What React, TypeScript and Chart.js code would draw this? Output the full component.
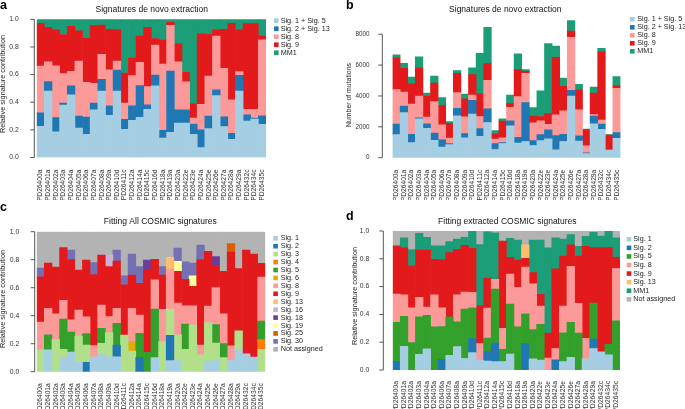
import React, { useEffect, useRef } from 'react';
import { Chart, registerables } from 'chart.js';

Chart.register(...registerables);

const FONT = '"Liberation Sans", Arial, Helvetica, sans-serif';

const SAMPLES = ['PD26400a','PD26401a','PD26402a','PD26403a','PD26404a','PD26405a','PD26406a','PD26407a','PD26408a','PD26409a','PD26410d','PD26411c','PD26412a','PD26414a','PD26415c','PD26416d','PD26418a','PD26419a','PD26420a','PD26422e','PD26423e','PD26424a','PD26425e','PD26426e','PD26427a','PD26428a','PD26429a','PD26432c','PD26434c','PD26435c'];

const FRACTION_TICKS = [0, 0.2, 0.4, 0.6, 0.8, 1.0];
const COUNT_TICKS = [0, 2000, 4000, 6000, 8000];

// Panel a: relative contributions (de novo)
const A_SIG1_5 = [.225,.48,.185,.379,.453,.213,.168,.345,.48,.305,.48,.204,.269,.29,.348,.518,.141,.182,.249,.249,.168,.072,.209,.448,.223,.132,.48,.264,.278,.24];
const A_SIG2_13 = [.099,.07,.103,.014,.065,.087,.125,.048,.086,.069,.153,.072,.105,.23,.033,.079,.056,.444,.096,.096,.074,.128,.091,.041,.072,.043,.115,.045,.007,.062];
const A_SIG8 = [.338,.143,.376,.214,.106,.398,.251,.144,.18,.261,.065,.117,.218,.168,.132,.216,.479,.331,.348,.202,.043,.184,.29,.389,.35,.242,.026,.039,.063,.549];
const A_SIG9 = [.309,.249,.259,.283,.326,.218,.319,.417,.213,.293,.225,.218,.127,.19,.429,.048,.173,.021,.132,.069,.103,.513,.302,.045,.283,.554,.302,.621,.621,.027];
const A_MM1 = [.029,.058,.077,.11,.05,.084,.137,.046,.041,.072,.077,.389,.281,.122,.058,.139,.151,.022,.175,.384,.612,.103,.108,.077,.072,.029,.077,.031,.031,.122];

// Panel b: number of mutations (de novo)
const B_SIG1_5 = [1490,2920,980,2520,1900,1130,680,850,2710,1280,2820,1390,2280,530,920,2070,940,1050,790,1110,1220,510,1050,3990,1070,260,2200,1840,470,1260];
const B_SIG2_13 = [690,430,530,60,300,470,470,60,490,280,900,490,880,380,60,320,380,2520,320,380,580,920,470,380,340,60,490,340,20,360];
const B_SIG8 = [2240,900,1960,1410,430,2030,980,360,1020,1090,340,790,1860,300,300,880,2640,1900,1150,900,360,1340,1510,3430,1690,450,110,260,20,2880];
const B_SIG9 = [2070,1540,1320,1840,1370,1200,1260,960,1240,1170,1320,1470,1070,340,1090,230,1750,130,430,280,700,3730,1600,410,1300,1050,1390,4420,960,150];
const B_MM1 = [170,320,430,700,190,450,510,110,190,300,450,2620,2350,210,150,560,1020,110,550,1660,4540,730,530,680,360,40,380,230,20,600];

// Panel c: fitting all COSMIC signatures
const C_SIG1 = [0,.156,0,.10,.14,.067,0,.107,.131,.107,.107,0,0,0,0,.10,0,.079,.079,0,0,0,.072,.083,0,.08,.155,.127,.105,0];
const C_SIG2 = [0,0,0,0,0,0,.067,0,0,0,.083,0,0,.102,0,0,0,.181,0,0,0,0,0,0,0,0,0,0,0,0];
const C_SIG3 = [.157,0,.229,.06,0,.188,.123,0,.071,.172,0,.262,.148,0,0,0,.215,.188,.185,.16,.335,.12,.279,.122,.1,0,.137,0,0,.16];
const C_SIG4 = [0,0,0,0,0,0,0,0,0,0,0,0,0,0,0,0,0,0,0,0,0,0,0,0,0,0,0,0,0,.069];
const C_SIG5 = [0,.107,0,.215,.143,0,.082,0,.108,0,.155,0,0,.172,.138,.347,0,0,0,.18,0,0,0,.131,.1,0,0,0,0,.133];
const C_SIG6 = [0,0,0,0,0,0,0,0,0,0,0,0,.066,0,0,0,0,0,0,0,0,0,0,0,0,0,0,0,0,0];
const C_SIG8 = [.198,.189,.185,.135,.087,.185,.12,.079,.166,.114,.107,0,.238,.131,0,.209,.23,.285,.226,.13,.135,.07,.117,.264,.214,.105,0,0,0,.314];
const C_SIG9 = [.322,.323,.334,.376,.43,.286,.406,.507,.357,.357,.338,.358,.238,.226,.588,.147,.245,0,.227,.19,.14,.61,.392,.156,.303,.67,.444,.741,.735,.098];
const C_SIG13 = [0,0,0,0,0,0,0,0,0,0,0,0,0,0,0,0,0,.084,0,0,0,0,0,0,0,0,0,0,0,0];
const C_SIG16 = [0,0,0,0,0,0,0,0,0,.083,0,0,0,0,0,0,0,0,0,0,0,0,0,0,0,0,0,0,0,0];
const C_SIG18 = [0,0,0,0,0,0,0,0,0,0,0,0,0,0,.072,0,0,0,0,0,0,0,0,.066,0,0,0,0,0,0];
const C_SIG19 = [0,0,0,0,0,0,0,0,0,0,0,0,0,0,0,0,0,0,.071,0,.075,0,0,0,0,0,0,0,0,0];
const C_SIG25 = [0,0,0,0,0,0,0,0,0,0,0,0,0,0,0,0,0,0,0,0,0,0,0,0,0,.06,0,0,0,0];
const C_SIG30 = [.063,0,0,0,.068,0,0,.086,0,0,.079,.065,.15,.119,0,0,.06,0,.095,.125,.09,.105,0,0,0,0,0,0,0,0];
const C_NA = [.26,.225,.252,.114,.132,.274,.202,.221,.167,.167,.131,.315,.16,.25,.202,.197,.25,.183,.117,.215,.225,.095,.14,.178,.283,.085,.264,.132,.16,.226];

// Panel d: fitting extracted COSMIC signatures
const D_SIG1 = [0,.17,0,.113,.152,0,0,.106,.168,.083,.125,.07,.065,.06,.06,.115,0,0,.08,.072,0,0,.06,.091,0,.081,.155,.131,.11,0];
const D_SIG2 = [.062,0,0,0,0,0,.076,0,0,0,.101,0,.066,.133,0,0,0,.19,0,0,0,.073,0,0,0,0,.067,0,0,0];
const D_SIG5 = [.281,.217,.197,.269,.241,.31,.236,.276,.178,.356,.222,0,.098,.389,.089,.36,.31,.215,.21,.256,0,0,.208,.252,.266,0,.26,0,.074,.353];
const D_SIG8 = [.204,.154,.251,.141,.059,.23,.136,0,.195,.122,.111,.12,.216,.07,.151,.215,.285,.335,.33,.132,.085,.082,.191,.403,.214,.147,0,0,0,.377];
const D_SIG9 = [.347,.338,.299,.34,.411,.257,.344,.462,.327,.336,.316,.272,.216,0,.628,.12,.195,.063,.08,.084,.18,.573,.36,.154,.34,.662,.398,.749,.696,.08];
const D_SIG13 = [0,0,0,0,0,0,0,0,0,0,0,0,0,0,0,0,0,.097,0,0,0,0,0,0,0,0,0,0,0,0];
const D_MM1 = [0,.072,.12,.12,.091,.096,.102,.079,.074,.057,.125,.44,.333,.334,0,.138,.145,0,.235,.391,.614,.222,.123,.074,.07,.072,.11,.084,.12,.14];
const D_NA = [.106,.049,.133,.017,.046,.107,.106,.077,.058,.046,0,.098,.006,.014,.072,.052,.065,.1,.065,.065,.121,.05,.058,.026,.11,.038,.01,.036,0,.05];

const COL = {
  s1: '#a6cee3', s2: '#1f78b4', s3: '#b2df8a', s4: '#ff7f00', s5: '#33a02c', s6: '#e6ab02',
  s8: '#fb9a99', s9: '#e31a1c', s13: '#fdbf6f', s16: '#cab2d6', s18: '#6a3d9a', s19: '#ffff99',
  s25: '#d95f02', s30: '#7570b3', mm1: '#1b9e77', na: '#b3b3b3',
};

type Series = { label: string; color: string; data: number[] };
type Spec = {
  key: string; pos: [number, number, number, number];
  area: { left: number; top: number; right: number; bottom: number };
  series: Series[];
  yMax: number; yTicks: number[]; yDigits: number; yFont: number; yPad: number;
  axisGap: number; xPad: number;
  letter: [string, number, number];
  title: [string, number, number];
  ytitle: [string, number, number, number];
  legend: { bx: number; tx: number; y0: number; dy: number };
};

const PANELS: Spec[] = [
  {
    key: 'a', pos: [0, 0, 340, 200],
    area: { left: 36.7, top: 19.3, right: 266, bottom: 157.5 },
    series: [
      { label: 'Sig. 1 + Sig. 5', color: COL.s1, data: A_SIG1_5 },
      { label: 'Sig. 2 + Sig. 13', color: COL.s2, data: A_SIG2_13 },
      { label: 'Sig. 8', color: COL.s8, data: A_SIG8 },
      { label: 'Sig. 9', color: COL.s9, data: A_SIG9 },
      { label: 'MM1', color: COL.mm1, data: A_MM1 },
    ],
    yMax: 1, yTicks: FRACTION_TICKS, yDigits: 1, yFont: 6.8, yPad: 10, axisGap: 2.4, xPad: 4,
    letter: ['a', 0, 9.3], title: ['Signatures de novo extraction', 151.7, 9.5],
    ytitle: ['Relative signature contribution', 3, 84, 7.3],
    legend: { bx: 274, tx: 280.7, y0: 20.7, dy: 8 },
  },
  {
    key: 'b', pos: [340, 0, 345, 200],
    area: { left: 52.5, top: 17.75, right: 280.5, bottom: 157.7 },
    series: [
      { label: 'Sig. 1 + Sig. 5', color: COL.s1, data: B_SIG1_5 },
      { label: 'Sig. 2 + Sig. 13', color: COL.s2, data: B_SIG2_13 },
      { label: 'Sig. 8', color: COL.s8, data: B_SIG8 },
      { label: 'Sig. 9', color: COL.s9, data: B_SIG9 },
      { label: 'MM1', color: COL.mm1, data: B_MM1 },
    ],
    yMax: 9000, yTicks: COUNT_TICKS, yDigits: 0, yFont: 6.3, yPad: 15, axisGap: 10.2, xPad: 4,
    letter: ['b', 6, 9.3], title: ['Signatures de novo extraction', 165.3, 10],
    ytitle: ['Number of mutations', 9.3, 95, 6.9],
    legend: { bx: 290, tx: 297.3, y0: 19.3, dy: 8 },
  },
  {
    key: 'c', pos: [0, 200, 340, 209],
    area: { left: 36.7, top: 31.7, right: 265.3, bottom: 171.7 },
    series: [
      { label: 'Sig. 1', color: COL.s1, data: C_SIG1 },
      { label: 'Sig. 2', color: COL.s2, data: C_SIG2 },
      { label: 'Sig. 3', color: COL.s3, data: C_SIG3 },
      { label: 'Sig. 4', color: COL.s4, data: C_SIG4 },
      { label: 'Sig. 5', color: COL.s5, data: C_SIG5 },
      { label: 'Sig. 6', color: COL.s6, data: C_SIG6 },
      { label: 'Sig. 8', color: COL.s8, data: C_SIG8 },
      { label: 'Sig. 9', color: COL.s9, data: C_SIG9 },
      { label: 'Sig. 13', color: COL.s13, data: C_SIG13 },
      { label: 'Sig. 16', color: COL.s16, data: C_SIG16 },
      { label: 'Sig. 18', color: COL.s18, data: C_SIG18 },
      { label: 'Sig. 19', color: COL.s19, data: C_SIG19 },
      { label: 'Sig. 25', color: COL.s25, data: C_SIG25 },
      { label: 'Sig. 30', color: COL.s30, data: C_SIG30 },
      { label: 'Not assigned', color: COL.na, data: C_NA },
    ],
    yMax: 1, yTicks: FRACTION_TICKS, yDigits: 1, yFont: 6.8, yPad: 9.4, axisGap: 2, xPad: 3.5,
    letter: ['c', 0, 11], title: ['Fitting All COSMIC signatures', 160.3, 21.7],
    ytitle: ['Relative signature contribution', 3, 99, 7.3],
    legend: { bx: 273.3, tx: 280.7, y0: 38.3, dy: 7.93 },
  },
  {
    key: 'd', pos: [340, 200, 345, 209],
    area: { left: 52.7, top: 31, right: 280, bottom: 170 },
    series: [
      { label: 'Sig. 1', color: COL.s1, data: D_SIG1 },
      { label: 'Sig. 2', color: COL.s2, data: D_SIG2 },
      { label: 'Sig. 5', color: COL.s5, data: D_SIG5 },
      { label: 'Sig. 8', color: COL.s8, data: D_SIG8 },
      { label: 'Sig. 9', color: COL.s9, data: D_SIG9 },
      { label: 'Sig. 13', color: COL.s13, data: D_SIG13 },
      { label: 'MM1', color: COL.mm1, data: D_MM1 },
      { label: 'Not assigned', color: COL.na, data: D_NA },
    ],
    yMax: 1, yTicks: FRACTION_TICKS, yDigits: 1, yFont: 6.8, yPad: 15.4, axisGap: 9.4, xPad: 3,
    letter: ['d', 6, 20], title: ['Fitting extracted COSMIC signatures', 167.3, 21.7],
    ytitle: ['Relative signature contribution', 15, 96, 7.3],
    legend: { bx: 286.7, tx: 293.3, y0: 39.3, dy: 8.57 },
  },
];

function makeDecor(s: Spec) {
  return {
    id: 'decor_' + s.key,
    afterDraw(chart: any) {
      const ctx: CanvasRenderingContext2D = chart.ctx;
      const area = chart.chartArea;
      const ys = chart.scales.y;
      ctx.save();
      // R-style detached y axis
      const vals: number[] = ys.ticks.map((t: any) => t.value);
      const ax = area.left - s.axisGap;
      ctx.strokeStyle = '#444';
      ctx.lineWidth = 0.9;
      ctx.beginPath();
      ctx.moveTo(ax, ys.getPixelForValue(Math.min(...vals)));
      ctx.lineTo(ax, ys.getPixelForValue(Math.max(...vals)));
      for (const v of vals) {
        const p = ys.getPixelForValue(v);
        ctx.moveTo(ax, p);
        ctx.lineTo(ax - 4, p);
      }
      ctx.stroke();
      // legend
      ctx.textAlign = 'left';
      ctx.textBaseline = 'middle';
      ctx.font = `7.2px ${FONT}`;
      chart.data.datasets.forEach((ds: any, i: number) => {
        const y = s.legend.y0 + i * s.legend.dy;
        ctx.fillStyle = ds.backgroundColor;
        ctx.fillRect(s.legend.bx, y - 2.3, 4.6, 4.6);
        ctx.fillStyle = '#222';
        ctx.fillText(ds.label, s.legend.tx, y);
      });
      // title
      ctx.textAlign = 'center';
      ctx.font = `8.5px ${FONT}`;
      ctx.fillStyle = '#111';
      ctx.fillText(s.title[0], s.title[1], s.title[2]);
      // y title
      ctx.save();
      ctx.translate(s.ytitle[1], s.ytitle[2]);
      ctx.rotate(-Math.PI / 2);
      ctx.font = `${s.ytitle[3]}px ${FONT}`;
      ctx.fillStyle = '#222';
      ctx.fillText(s.ytitle[0], 0, 0);
      ctx.restore();
      // panel letter
      ctx.textAlign = 'left';
      ctx.textBaseline = 'alphabetic';
      ctx.font = `bold 12.5px ${FONT}`;
      ctx.fillStyle = '#000';
      ctx.fillText(s.letter[0], s.letter[1], s.letter[2]);
      ctx.restore();
    },
  };
}

function Panel({ spec }: { spec: Spec }) {
  const ref = useRef<HTMLCanvasElement | null>(null);
  useEffect(() => {
    if (!ref.current) return;
    const [, , w, h] = spec.pos;
    const chart = new Chart(ref.current, {
      type: 'bar',
      data: {
        labels: SAMPLES,
        datasets: spec.series.map((s) => ({
          label: s.label,
          data: s.data.map((v) => (v > 0 ? v : null)),
          backgroundColor: s.color,
          borderWidth: 0,
          categoryPercentage: 1,
          barPercentage: 1,
        })),
      },
      options: {
        animation: false,
        responsive: false,
        events: [],
        layout: { padding: { left: 0, top: spec.area.top, right: w - spec.area.right, bottom: 0 } },
        plugins: { legend: { display: false }, tooltip: { enabled: false }, title: { display: false } },
        scales: {
          x: {
            stacked: true,
            grid: { display: false },
            border: { display: false },
            ticks: {
              autoSkip: false, minRotation: 90, maxRotation: 90, padding: spec.xPad,
              color: '#333', font: { size: 6.7, family: FONT },
            },
            afterFit: (sc: any) => { sc.height = h - spec.area.bottom; },
          },
          y: {
            stacked: true,
            min: 0,
            max: spec.yMax,
            grid: { display: false },
            border: { display: false },
            afterBuildTicks: (sc: any) => { sc.ticks = spec.yTicks.map((v) => ({ value: v })); },
            ticks: {
              padding: spec.yPad,
              color: '#333', font: { size: spec.yFont, family: FONT },
              callback: (v: any) => Number(v).toFixed(spec.yDigits),
            },
            afterFit: (sc: any) => { sc.width = spec.area.left; },
          },
        },
      } as any,
      plugins: [makeDecor(spec)],
    });
    return () => chart.destroy();
  }, [spec]);
  const [x, y, w, h] = spec.pos;
  return (
    <canvas
      ref={ref}
      width={w}
      height={h}
      style={{ position: 'absolute', left: x, top: y, width: w, height: h }}
    />
  );
}

export default function App() {
  return (
    <div style={{ position: 'fixed', left: 0, top: 0, width: 685, height: 409, background: '#fff', overflow: 'hidden' }}>
      {PANELS.map((p) => (
        <Panel key={p.key} spec={p} />
      ))}
    </div>
  );
}
